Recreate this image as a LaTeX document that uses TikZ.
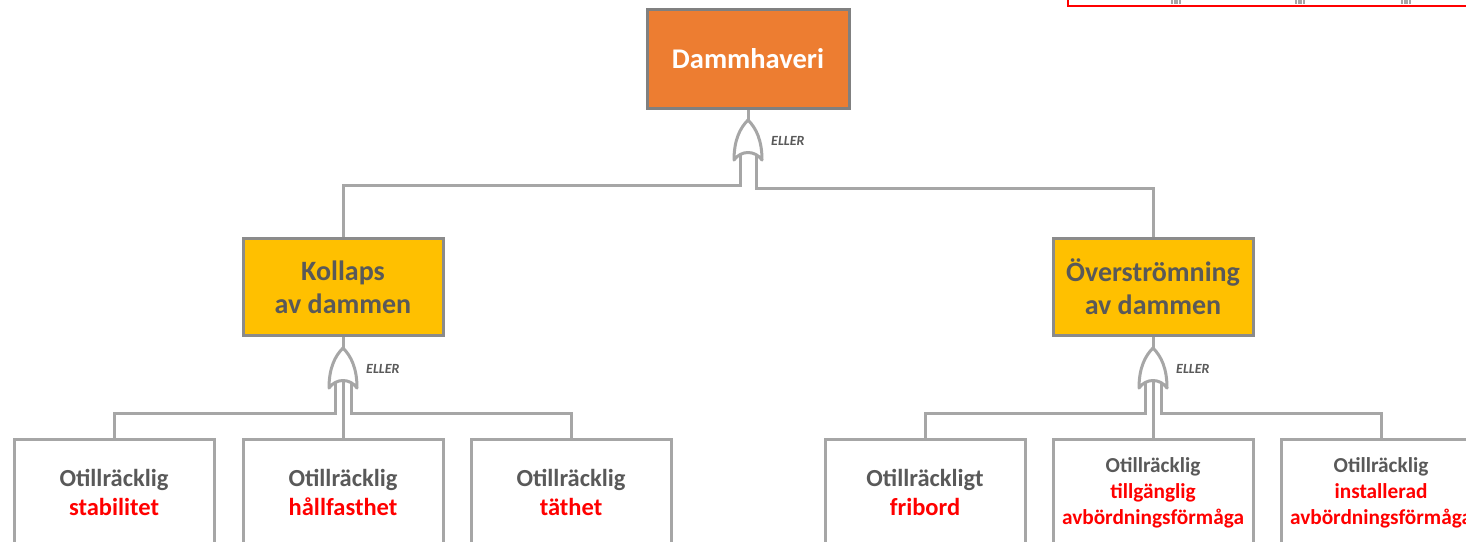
\documentclass[tikz,border=0pt]{standalone}
\usepackage{fontspec}
\setmainfont{Carlito}
\definecolor{orangef}{HTML}{ED7D31}
\definecolor{yellowf}{HTML}{FFC000}
\definecolor{txtgray}{HTML}{595959}
\definecolor{darkborder}{HTML}{808080}
\definecolor{lightborder}{HTML}{A6A6A6}
\definecolor{redtxt}{HTML}{FF0000}
\tikzset{
  basebox/.style={draw, line width=3pt, inner sep=0pt, align=center, font=\bfseries},
  topbox/.style={basebox, draw=darkborder, fill=orangef, text=white, minimum width=202pt, minimum height=99pt, font=\bfseries\fontsize{28.5}{33}\selectfont},
  midbox/.style={basebox, draw=darkborder!70!lightborder, fill=yellowf, text=txtgray, minimum width=200pt, minimum height=97pt, font=\bfseries\fontsize{28}{33}\selectfont},
  leafbox/.style={basebox, draw=lightborder, fill=white, text=txtgray, minimum width=200pt, minimum height=106pt, anchor=north, font=\bfseries\fontsize{24.5}{29}\selectfont},
  leafsmall/.style={leafbox, font=\bfseries\fontsize{21.3}{26}\selectfont},
  conn/.style={draw=lightborder, line width=3pt},
  eller/.style={text=txtgray, font=\bfseries\itshape\fontsize{14}{16}\selectfont, inner sep=0pt},
  orgate/.pic={\draw[draw=lightborder, line width=3pt, fill=white, line join=round]
     (-14,40) .. controls (-14,20) and (-8,8) .. (0,0)
     .. controls (8,8) and (14,20) .. (14,40)
     .. controls (7,30) and (-7,30) .. cycle;},
  redframe/.style={draw=redtxt, line width=2pt},
}
\newcommand{\hl}[1]{\textcolor{redtxt}{#1}}
\begin{document}
\begin{tikzpicture}[x=1pt,y=-1pt]
\clip (0,0) rectangle (1466,541);
\fill[white] (0,0) rectangle (1466,541);

% partial frame at top right
\draw[redframe] (1068,-5) -- (1068,6) -- (1470,6);
\foreach \gx in {1176,1300,1406}{
  \draw[lightborder, line width=1.2pt] (\gx-4,0) -- (\gx-4,3.5) (\gx-1,0) -- (\gx-1,3.5)
    (\gx+1,0) -- (\gx+1,3.5) (\gx+4,0) -- (\gx+4,3.5);
}

% nodes
\node[topbox] (top) at (748,59) {Dammhaveri};
\node[midbox] (kol) at (343,287) {Kollaps\\av dammen};
\node[midbox] (ovr) at (1153,287) {Överströmning\\av dammen};

\node[leafbox] (b1) at (114,438) {Otillräcklig\\\hl{stabilitet}};
\node[leafbox] (b2) at (343,438) {Otillräcklig\\\hl{hållfasthet}};
\node[leafbox] (b3) at (571,438) {Otillräcklig\\\hl{täthet}};
\node[leafbox] (b4) at (925,438) {Otillräckligt\\\hl{fribord}};
\node[leafsmall] (b5) at (1153,438) {Otillräcklig\\\hl{tillgänglig}\\\hl{avbördningsförmåga}};
\node[leafsmall] (b6) at (1381,438) {Otillräcklig\\\hl{installerad}\\\hl{avbördningsförmåga}};

% gates
\coordinate (g1) at (748,120);
\coordinate (g2) at (343,348);
\coordinate (g3) at (1153,348);
\draw[conn] (top.south) -- (g1);
\draw[conn] (kol.south) -- (g2);
\draw[conn] (ovr.south) -- (g3);

\coordinate (g1L) at (740,152);
\coordinate (g1R) at (756,152);
\coordinate (g2L) at (335,380);
\coordinate (g2M) at (343,380);
\coordinate (g2R) at (351,380);
\coordinate (g3L) at (1145,380);
\coordinate (g3M) at (1153,380);
\coordinate (g3R) at (1161,380);

\draw[conn] (g1L) -- ++(0,33) -| (kol.north);
\draw[conn] (g1R) -- ++(0,36) -| (ovr.north);
\draw[conn] (g2L) -- ++(0,33) -| (b1.north);
\draw[conn] (g2M) -- (b2.north);
\draw[conn] (g2R) -- ++(0,33) -| (b3.north);
\draw[conn] (g3L) -- ++(0,33) -| (b4.north);
\draw[conn] (g3M) -- (b5.north);
\draw[conn] (g3R) -- ++(0,33) -| (b6.north);

\pic at (g1) {orgate};
\pic at (g2) {orgate};
\pic at (g3) {orgate};

\node[eller, anchor=west] (e1) at (771,141) {ELLER};
\node[eller, anchor=west] (e2) at (366,369) {ELLER};
\node[eller, anchor=west] (e3) at (1176,369) {ELLER};
\end{tikzpicture}
\end{document}
